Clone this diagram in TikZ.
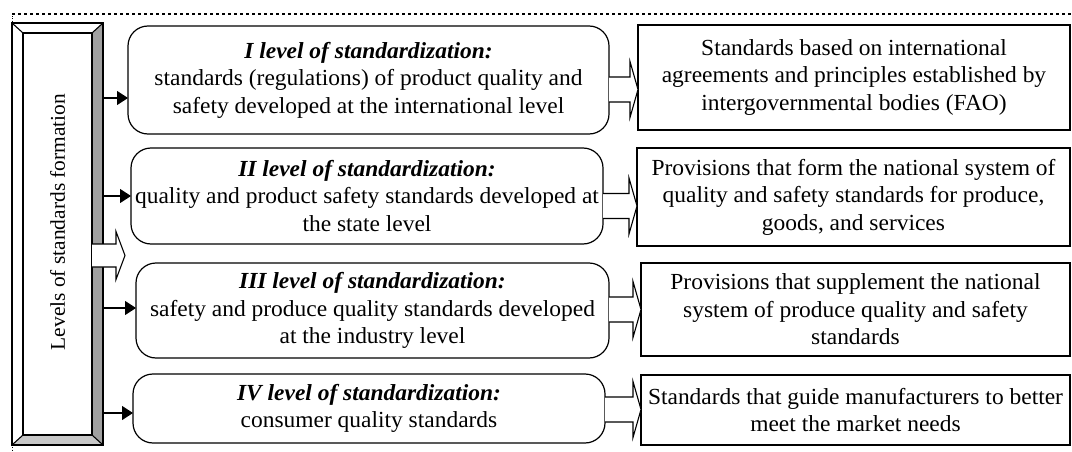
\documentclass[tikz,border=0pt]{standalone}
\usepackage{fontspec}
\setmainfont{Liberation Serif}[FakeStretch=1.02]
\usetikzlibrary{arrows.meta}
\definecolor{bevR}{HTML}{A0A0A0}
\definecolor{bevB}{HTML}{C8C8C8}
\tikzset{
  lvl/.style={draw, rounded corners=20pt, line width=1.2pt, align=center, inner sep=0pt, outer sep=0pt,
    font=\fontsize{23}{27.5}\selectfont},
  res/.style={draw, line width=1.2pt, align=center, inner sep=0pt, outer sep=0pt,
    font=\fontsize{23}{27.5}\selectfont},
  sarrow/.style={-{Triangle[length=11pt,width=14pt]}, line width=1.2pt},
  bstyle/.style={draw, fill=white, line width=1.1pt, line join=miter},
}
\newcommand\blockarr[3]{%
  \draw[bstyle] ([yshift=12.5pt]#1.east |- #3) -- ([xshift=-8pt,yshift=12.5pt]#2.west |- #3)
    -- ([xshift=-8pt,yshift=28pt]#2.west |- #3) -- (#2.west |- #3)
    -- ([xshift=-8pt,yshift=-28pt]#2.west |- #3) -- ([xshift=-8pt,yshift=-12.5pt]#2.west |- #3)
    -- ([yshift=-12.5pt]#1.east |- #3);}
\begin{document}
\begin{tikzpicture}[x=1pt,y=-1pt]
\useasboundingbox (0,0) rectangle (1072,452);
% dotted frame
\draw[line width=2.2pt, dash pattern=on 2.5pt off 3.5pt] (12,14) -- (1072,14);
\draw[line width=1pt, dash pattern=on 1pt off 1.2pt] (12,14) -- (12,452);
% bevel box
\node[minimum width=91pt, minimum height=422pt, inner sep=0pt, outer sep=0pt] (lev) at (57.5,234) {};
\fill[white] (12,23) -- (103,23) -- (92,33) -- (23,33) -- cycle;
\fill[white] (12,23) -- (23,33) -- (23,435) -- (12,445) -- cycle;
\fill[bevR] (103,23) -- (103,445) -- (92,435) -- (92,33) -- cycle;
\fill[bevB] (12,445) -- (103,445) -- (92,435) -- (23,435) -- cycle;
\draw[line width=1.1pt] (lev.north west) rectangle (lev.south east);
\draw[line width=1.1pt] (23,33) rectangle (92,435);
\draw[line width=1.1pt] (12,23) -- (23,33) (103,23) -- (92,33) (103,445) -- (92,435) (12,445) -- (23,435);
\node[rotate=90, font=\fontsize{21}{25}\selectfont, inner sep=0pt] (levtxt) at (57.5,222) {Levels of standards formation};
% level boxes
\node[lvl, minimum width=481pt, minimum height=108pt] (L1) at (368.5,80)
  {\textbf{\textit{I level of standardization:}}\\standards (regulations) of product quality and\\safety developed at the international level};
\node[lvl, minimum width=472pt, minimum height=96pt] (L2) at (367,196)
  {\textbf{\textit{II level of standardization:}}\\quality and product safety standards developed at\\the state level};
\node[lvl, minimum width=473pt, minimum height=95pt] (L3) at (372.5,310.5)
  {\textbf{\textit{III level of standardization:}}\\safety and produce quality standards developed\\at the industry level};
\node[lvl, minimum width=472pt, minimum height=69pt] (L4) at (369,408.5)
  {\textbf{\textit{IV level of standardization:}}\\consumer quality standards};
% result boxes
\node[res, minimum width=432pt, minimum height=105pt] (R1) at (854,77.5)
  {Standards based on international\\agreements and principles established by\\intergovernmental bodies (FAO)};
\node[res, minimum width=433pt, minimum height=98pt] (R2) at (853.5,197)
  {Provisions that form the national system of\\quality and safety standards for produce,\\goods, and services};
\node[res, minimum width=429pt, minimum height=93pt] (R3) at (855.5,309.5)
  {Provisions that supplement the national\\system of produce quality and safety\\standards};
\node[res, minimum width=429pt, minimum height=70pt] (R4) at (855.5,410)
  {Standards that guide manufacturers to better\\meet the market needs};
% small arrows
\coordinate (s1) at (0,98);
\coordinate (s2) at (0,196);
\coordinate (s3) at (0,308);
\coordinate (s4) at (0,413);
\draw[sarrow] (lev.east |- s1) -- (L1.west |- s1);
\draw[sarrow] (lev.east |- s2) -- (L2.west |- s2);
\draw[sarrow] (lev.east |- s3) -- (L3.west |- s3);
\draw[sarrow] (lev.east |- s4) -- (L4.west |- s4);
% wide arrow from bevel box
\coordinate (w) at (0,255.5);
\draw[bstyle] ([xshift=-11pt]lev.east |- w) ++(0,-11.5) -- ++(24,0) -- ++(0,-12.5) -- ++(9,24) -- ++(-9,24) -- ++(0,-12.5) -- ++(-24,0);
% block arrows
\coordinate (b1) at (0,89.5);
\coordinate (b2) at (0,206);
\coordinate (b3) at (0,309.5);
\coordinate (b4) at (0,409.5);
\blockarr{L1}{R1}{b1}
\blockarr{L2}{R2}{b2}
\blockarr{L3}{R3}{b3}
\blockarr{L4}{R4}{b4}
\end{tikzpicture}
\end{document}
